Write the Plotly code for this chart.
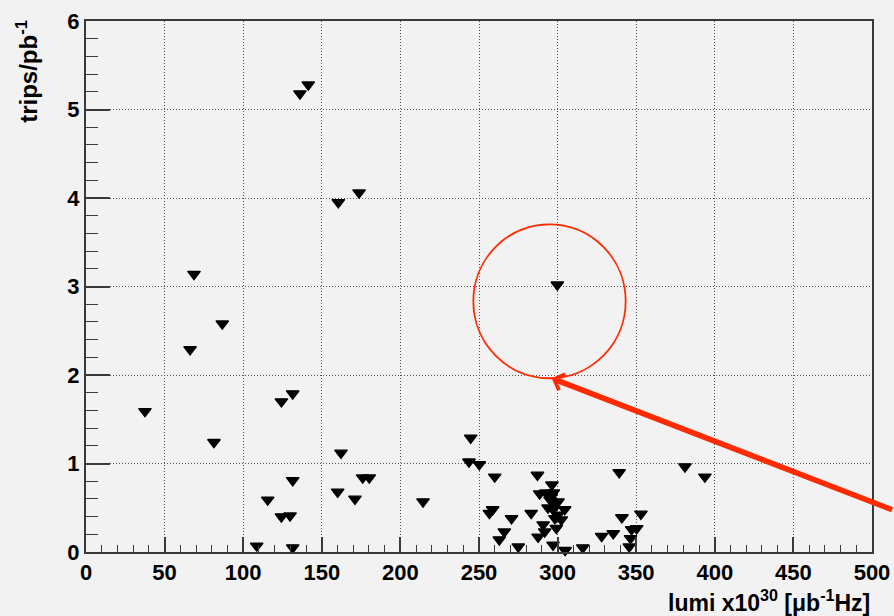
import plotly.graph_objects as go

# Data
lumi = [37.5, 66.2, 68.7, 81.4, 86.7, 108.6, 115.6, 124.3, 124.3, 129.8,
        131.5, 131.5, 131.5, 136.1, 141.4, 160.1, 160.5, 162.2, 171.1, 173.7,
        176.0, 180.2, 214.4, 243.6, 244.7, 250.2, 256.6, 258.7, 260.0, 262.9,
        266.1, 270.7, 275.0, 283.2, 287.2, 287.6, 288.6, 290.8, 291.8, 292.6,
        293.9, 295.2, 296.0, 296.4, 297.1, 297.1, 297.3, 298.3, 298.3, 299.2,
        299.8, 300.3, 300.2, 302.4, 304.5, 304.8, 316.0, 328.0, 335.4, 339.2,
        340.9, 345.6, 346.4, 347.1, 350.3, 353.0, 381.0, 393.7]
trips = [1.59, 2.29, 3.14, 1.24, 2.58, 0.07, 0.59, 0.40, 1.70, 0.41,
         0.81, 1.79, 0.05, 5.18, 5.28, 0.68, 3.95, 1.12, 0.60, 4.06,
         0.84, 0.84, 0.57, 1.02, 1.29, 0.99, 0.44, 0.48, 0.85, 0.14,
         0.23, 0.38, 0.06, 0.44, 0.87, 0.17, 0.66, 0.31, 0.23, 0.67,
         0.50, 0.59, 0.63, 0.76, 0.48, 0.08, 0.67, 0.55, 0.38, 0.27,
         3.02, 0.57, 0.42, 0.365, 0.48, 0.02, 0.05, 0.18, 0.21, 0.90,
         0.39, 0.06, 0.155, 0.256, 0.267, 0.43, 0.965, 0.85]

# Highlight circle (data coords) and arrow tip
circle_x = [246.4, 343.3]
circle_y = [1.963, 3.703]
arrow_tip = (296.2, 1.963)

BG = "#f2f2f2"
AX = "#3a3a3a"
RED = "#ff2a00"
FONT = "Liberation Sans, Arial, Helvetica, sans-serif"

fig = go.Figure()
fig.add_trace(go.Scatter(
    x=lumi, y=trips, mode="markers",
    marker=dict(symbol="triangle-down", size=11, color="black",
                line=dict(color="black", width=1.3)),
    showlegend=False, cliponaxis=False, hoverinfo="skip",
))

fig.update_layout(
    width=894, height=616,
    margin=dict(l=86, r=22, t=21, b=64, autoexpand=False),
    paper_bgcolor=BG, plot_bgcolor=BG,
    font=dict(family=FONT, color="black"),
    xaxis=dict(
        range=[0, 500], dtick=50, tick0=0,
        showline=True, mirror=True, linecolor=AX, linewidth=2,
        ticks="inside", ticklen=15, tickwidth=1.5, tickcolor=AX,
        tickfont=dict(size=22, weight="bold", family=FONT),
        showgrid=True, gridcolor="#555555", gridwidth=1, griddash="1px,2px",
        zeroline=False, automargin=False,
        minor=dict(dtick=10, ticks="inside", ticklen=7, tickwidth=1.2,
                   tickcolor=AX, showgrid=False),
    ),
    yaxis=dict(
        range=[0, 6], dtick=1, tick0=0,
        showline=True, mirror=True, linecolor=AX, linewidth=2,
        ticks="inside", ticklen=24, tickwidth=1.5, tickcolor=AX,
        tickfont=dict(size=22, weight="bold", family=FONT),
        showgrid=True, gridcolor="#555555", gridwidth=1, griddash="1px,2px",
        zeroline=False, automargin=False,
        minor=dict(dtick=0.2, ticks="inside", ticklen=12, tickwidth=1.2,
                   tickcolor=AX, showgrid=False),
    ),
)

# Axis titles (ROOT style, right/top aligned)
fig.add_annotation(
    text="lumi x10<sup>30</sup> [\u03bcb<sup>-1</sup>Hz]",
    xref="paper", yref="paper", x=1.0, y=-0.092,
    xanchor="right", yanchor="middle", showarrow=False,
    font=dict(size=23, weight="bold", family=FONT),
)
fig.add_annotation(
    text="trips/pb<sup>-1</sup>",
    xref="paper", yref="paper", x=-0.0744, y=1.006,
    xanchor="center", yanchor="top", textangle=-90, showarrow=False,
    font=dict(size=24, weight="bold", family=FONT),
)

# Red circle highlight
fig.add_shape(
    type="circle", xref="x", yref="y",
    x0=circle_x[0], x1=circle_x[1], y0=circle_y[0], y1=circle_y[1],
    line=dict(color=RED, width=1.8),
)

# Red arrow pointing at the circle
fig.add_annotation(
    x=arrow_tip[0], y=arrow_tip[1], xref="x", yref="y",
    ax=342, ay=132, axref="pixel", ayref="pixel",
    showarrow=True, arrowhead=4, arrowsize=0.6, arrowwidth=5.5,
    arrowcolor=RED, text="",
)

fig.write_html(
    "out.html",
    config={"displayModeBar": False},
    post_script="document.body.style.margin='0';document.body.style.overflow='hidden';",
)
